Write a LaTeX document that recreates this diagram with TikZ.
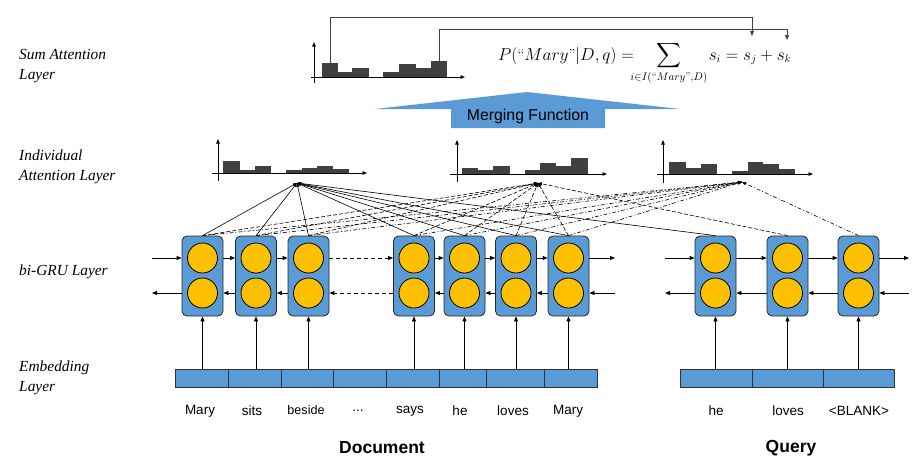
\documentclass[tikz,border=0pt]{standalone}
\usepackage{amsmath}
\usepackage{fontspec}
\usetikzlibrary{arrows.meta}
\newfontfamily\myserif{Liberation Serif}
\newfontfamily\mysans{Liberation Sans}
\definecolor{cellblue}{HTML}{5B9BD5}
\definecolor{gold}{HTML}{FFC000}
\definecolor{bardark}{HTML}{404040}
\begin{document}
\begin{tikzpicture}[x=1pt,y=-1pt,
  cell/.style={draw=black!85, fill=cellblue, rounded corners=5pt, minimum width=41pt, minimum height=80pt, line width=0.8pt, inner sep=0pt},
  unit/.style={circle, draw=black, fill=gold, minimum size=30pt, inner sep=0pt, line width=0.8pt},
  emb/.style={draw=black!80, fill=cellblue, minimum height=18pt, inner sep=0pt, line width=0.8pt},
  arr/.style={-{Triangle[length=5pt,width=4pt]}, line width=0.8pt},
  att/.style={-{Triangle[length=4pt,width=3pt]}, line width=0.6pt},
  dashline/.style={dash pattern=on 4pt off 2pt},
  dotdashline/.style={dash pattern=on 4pt off 2pt on 1pt off 2pt},
  axis/.style={-{Triangle[length=4.5pt,width=3.5pt]}, line width=0.8pt},
  word/.style={font={\mysans\fontsize{13.5}{16}\selectfont}},
  layer/.style={font={\myserif\itshape\fontsize{15.4}{20}\selectfont}, align=left, anchor=west, inner sep=0pt},
  title/.style={font={\mysans\bfseries\fontsize{17.5}{20}\selectfont}},
  mathtext/.style={font={\fontsize{16}{19}\selectfont}, inner sep=0pt}
]
\useasboundingbox (0,0) rectangle (915,469);

% layer labels
\node[layer] (L1) at (19,66) {Sum Attention\\Layer};
\node[layer] (L2) at (19,167) {Individual\\Attention Layer};
\node[layer] (L3) at (19,272) {bi-GRU Layer};
\node[layer] (L4) at (19,378) {Embedding\\Layer};

% embedding segments
\foreach \n/\a/\b in {1/175/228,2/228/281,3/281/333,4/333/386,5/386/439,6/439/486,7/486/544,8/544/597,9/680/752,10/752/823,11/823/894}
  \node[emb, minimum width={(\b-\a)*1pt}] (e\n) at ({(\a+\b)/2},378) {};

% words
\node[word] (w1) at (200,411) {Mary};
\node[word] (w2) at (252,411) {sits};
\node[word, font={\mysans\fontsize{12.6}{15}\selectfont}] (w3) at (306,410) {beside};
\node[word] (w4) at (358,411) {...};
\node[word] (w5) at (410,411) {says};
\node[word] (w6) at (460,411) {he};
\node[word] (w7) at (513,411) {loves};
\node[word] (w8) at (568,411) {Mary};
\node[word] (w9) at (716,411) {he};
\node[word] (w10) at (788,411) {loves};
\node[word] (w11) at (859,411) {<BLANK>};

\node[title] (doc) at (382,448) {Document};
\node[title] (qry) at (791,448) {Query};

% GRU cells
\foreach \n/\x in {1/202.5,2/256,3/308.5,4/414,5/464.5,6/516,7/568.5,8/715.5,9/787.5,10/858.5}{
  \node[cell] (c\n) at (\x,276) {};
  \node[unit] (u\n) at (\x,258) {};
  \node[unit] (l\n) at (\x,293) {};
}

% embedding -> GRU
\foreach \i/\e in {1/1,2/2,3/3,4/5,5/6,6/7,7/8,8/9,9/10,10/11}
  \draw[arr] (c\i.south |- e\e.north) -- (c\i.south);

% recurrent connections (document)
\coordinate (din) at (152,258);
\coordinate (dout) at (615,258);
\coordinate (dbin) at (615,293);
\coordinate (dbout) at (152,293);
\draw[arr] (din) -- (c1.west |- u1);
\foreach \a/\b in {1/2,2/3,4/5,5/6,6/7}{
  \draw[arr] (c\a.east |- u\a) -- (c\b.west |- u\b);
  \draw[arr] (c\b.west |- l\b) -- (c\a.east |- l\a);
}
\draw[arr, dash pattern=on 4pt off 3pt] (c3.east |- u3) -- (c4.west |- u4);
\draw[arr, dash pattern=on 4pt off 3pt] (c4.west |- l4) -- (c3.east |- l3);
\draw[arr] (c7.east |- u7) -- (dout);
\draw[arr] (dbin) -- (c7.east |- l7);
\draw[arr] (c1.west |- l1) -- (dbout);

% recurrent connections (query)
\coordinate (qin) at (665,258);
\coordinate (qout) at (909,258);
\coordinate (qbin) at (909,293);
\coordinate (qbout) at (665,293);
\draw[arr] (qin) -- (c8.west |- u8);
\foreach \a/\b in {8/9,9/10}{
  \draw[arr] (c\a.east |- u\a) -- (c\b.west |- u\b);
  \draw[arr] (c\b.west |- l\b) -- (c\a.east |- l\a);
}
\draw[arr] (c10.east |- u10) -- (qout);
\draw[arr] (qbin) -- (c10.east |- l10);
\draw[arr] (c8.west |- l8) -- (qbout);

% individual attention histograms
\foreach \p/\q/\t in {223/240/161,240/255/170,255/271/166,286/302/170,302/317/168,317/333/166,333/349/169}
  \fill[bardark] (\p,173) rectangle (\q,\t);
\draw[axis] (218,181) -- (218,139);
\draw[axis] (212,173) -- (367,173);
\foreach \p/\q/\t in {462/478/168,478/493/170,493/510/166,525/540/170,540/556/163,556/571/166,571/588/158}
  \fill[bardark] (\p,174) rectangle (\q,\t);
\draw[axis] (457,182) -- (457,140);
\draw[axis] (450,174) -- (607,174);
\foreach \p/\q/\t in {669/686/162,686/701/168,701/717/164,732/748/171,748/763/162,763/779/164,779/795/169}
  \fill[bardark] (\p,174) rectangle (\q,\t);
\draw[axis] (663,183) -- (663,140);
\draw[axis] (657,174) -- (813,174);

\coordinate (a1) at (297,183);
\coordinate (a2) at (538,183);
\coordinate (a3) at (742,182);

\foreach \i in {1,...,8} \draw[att] (c\i.north) -- (a1);
\foreach \i in {1,...,7,9} \draw[att, dashline] (c\i.north) -- (a2);
\foreach \i in {1,...,7,10} \draw[att, dotdashline] (c\i.north) -- (a3);

% merging function
\fill[cellblue] (375,109) -- (527,92) -- (680,109) -- (605,109) -- (605,128) -- (451,128) -- (451,109) -- cycle;
\node[font={\mysans\fontsize{15.8}{18}\selectfont}] (merge) at (528,116) {Merging Function};

% sum attention histogram
\foreach \p/\q/\t in {322/338/63,338/352/72,352/369/68,383/399/72,399/416/64,416/431/68,431/447/61}
  \fill[bardark] (\p,77) rectangle (\q,\t);
\draw[axis] (314,83) -- (314,42);
\draw[axis] (311,77) -- (465,77);

% formula
\node[mathtext, anchor=base] (f1) at (566,60) {$P(\text{“}Mary\text{”}|D,q) =$};
\node[mathtext, anchor=base] (f2) at (669,60) {$\displaystyle\sum_{i\in I(\text{“}Mary\text{”},D)}$};
\node[mathtext, anchor=base] (f3) at (750,60) {$s_i = s_j + s_k$};

\coordinate (b1) at (330,63);
\coordinate (b7) at (439,61);
\coordinate (sj) at (752,36);
\coordinate (sk) at (787,40);
\draw[arr, draw=black!75, line width=0.7pt] (b1) |- (330,17) -| (sj);
\draw[arr, draw=black!75, line width=0.7pt] (b7) |- (439,29) -| (sk);
\end{tikzpicture}
\end{document}
